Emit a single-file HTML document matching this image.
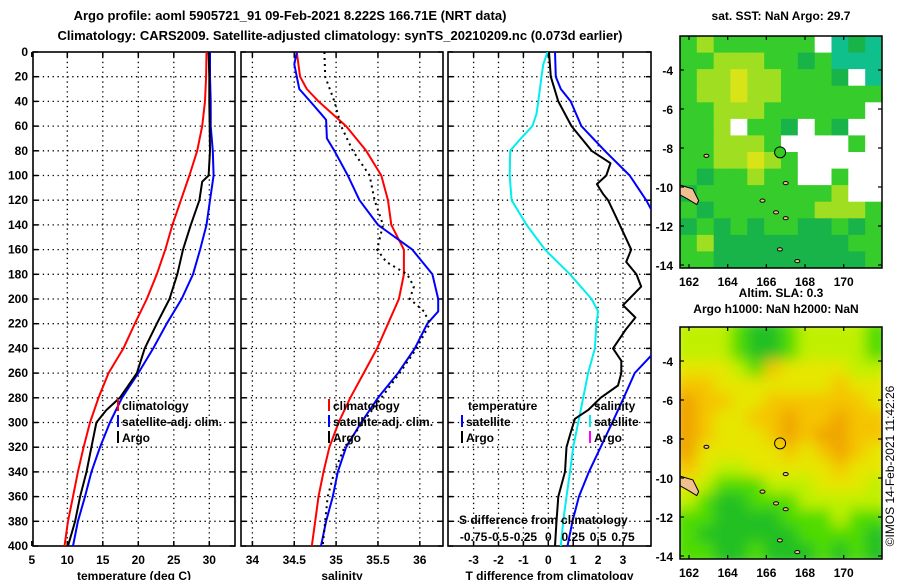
<!DOCTYPE html>
<html><head><meta charset="utf-8"><title>Argo profile</title>
<style>
html,body{margin:0;padding:0;background:#fff;}
svg{display:block;font-family:"Liberation Sans",Arial,sans-serif;font-weight:bold;}
text{fill:#000;}
</style></head>
<body>
<svg id="fig" width="900" height="580" viewBox="0 0 900 580" xmlns="http://www.w3.org/2000/svg">
<defs>
<clipPath id="c1"><rect x="33" y="52" width="202" height="494"/></clipPath>
<clipPath id="c2"><rect x="241" y="52" width="202" height="494"/></clipPath>
<clipPath id="c3"><rect x="448" y="52" width="203" height="494"/></clipPath>
<clipPath id="cm1"><rect x="680" y="36" width="202" height="232"/></clipPath>
<clipPath id="cm2"><rect x="680" y="327" width="202" height="232"/></clipPath>
<filter id="blur" x="-5%" y="-5%" width="110%" height="110%"><feGaussianBlur stdDeviation="7"/></filter>
</defs>
<text x="290" y="20" font-size="13" text-anchor="middle">Argo profile: aoml 5905721_91 09-Feb-2021 8.222S 166.71E (NRT data)</text>
<text x="340" y="40" font-size="13" text-anchor="middle">Climatology: CARS2009. Satellite-adjusted climatology: synTS_20210209.nc (0.073d earlier)</text>
<g id="panels"></g>
<g id="maps"></g>
<text x="781" y="20" font-size="12" text-anchor="middle">sat. SST: NaN Argo: 29.7</text>
<text x="781" y="297" font-size="12" text-anchor="middle">Altim. SLA: 0.3</text>
<text x="776" y="313" font-size="12" text-anchor="middle">Argo h1000: NaN h2000: NaN</text>
<text x="0" y="0" font-size="12" font-weight="normal" text-anchor="middle" transform="translate(894,466) rotate(-90)">©IMOS 14-Feb-2021 11:42:26</text>
</svg>
<script>
// ---------- data ----------
const depthTClim = [0,20,40,60,80,100,120,140,160,180,200,220,240,260,280,300,320,340,360,380,400];
const tempClim   = [29.6,29.55,29.4,29.0,28.3,27.2,26.0,24.8,23.8,22.6,21.2,19.5,17.9,15.8,14.4,13.2,12.3,11.5,10.8,10.1,9.6];
const depthTSat  = [0,20,40,60,80,100,120,140,160,180,200,220,240,260,280,300,320,340,360,380,400];
const tempSat    = [30.1,30.1,30.2,30.2,30.5,30.6,30.1,29.6,28.7,27.7,26.1,24.0,22.1,20.0,17.7,16.0,14.6,13.4,12.5,11.5,10.8];
const depthTArgo = [0,20,40,60,80,100,105,120,140,160,180,200,220,240,260,280,290,300,320,340,360,380,400];
const tempArgo   = [29.9,30.0,30.0,30.05,30.1,29.9,29.0,28.6,27.4,26.3,25.5,24.4,22.6,20.9,19.8,17.4,15.5,14.1,13.4,12.7,11.8,11.1,10.1];

const depthSClim = [0,10,20,30,40,60,80,100,120,140,160,180,200,220,240,260,280,300,320,340,360,380,400];
const salClim    = [34.53,34.55,34.57,34.65,34.79,35.12,35.36,35.54,35.62,35.66,35.81,35.81,35.75,35.62,35.49,35.33,35.17,35.03,34.92,34.85,34.79,34.75,34.71];
const depthSSat  = [0,10,20,30,40,50,55,70,80,100,120,140,160,180,200,210,220,240,260,280,300,320,340,360,380,400];
const salSat     = [34.53,34.50,34.53,34.56,34.69,34.82,34.88,34.89,34.98,35.14,35.28,35.5,35.91,36.15,36.22,36.22,36.09,35.94,35.74,35.5,35.3,35.12,35.02,34.96,34.88,34.82];
const depthSArgo = [0,20,40,60,80,100,120,140,160,170,180,190,200,210,220,240,260,280,300,320,340,360,380,400];
const salArgo    = [34.86,34.87,34.98,35.06,35.2,35.4,35.46,35.56,35.49,35.6,35.85,35.93,35.88,36.05,36.12,35.96,35.76,35.54,35.32,35.1,34.98,34.9,34.87,34.84];

const depthDTSat  = [0,20,30,40,60,80,100,120,160,200,240,260,280,300,320,340,360,380,400];
const diffTSat    = [0.27,0.3,0.5,0.9,1.33,2.27,3.27,3.93,5.0,5.5,4.4,3.47,3.03,2.57,2.1,1.63,1.23,0.97,0.77];
const depthDTArgo = [0,20,40,60,80,90,100,107,115,120,140,160,170,180,190,205,215,225,240,250,260,270,280,290,297,310,320,340,360,380,400];
const diffTArgo   = [0.03,0.1,0.4,0.93,1.74,2.5,2.33,1.95,2.2,2.4,2.87,3.33,3.13,3.54,3.73,3.0,3.5,3.1,2.6,2.93,2.93,2.8,2.1,1.6,1.07,0.87,0.73,0.67,0.4,0.33,0.27];
const depthDSSat  = [0,10,20,40,50,60,70,80,100,120,140,160,180,200,210,220,240,260,280,300,320,340,360,380,400];
const diffSSat    = [-0.008,-0.05,-0.068,-0.1,-0.118,-0.16,-0.275,-0.383,-0.388,-0.368,-0.218,-0.033,0.218,0.435,0.5,0.483,0.468,0.4,0.35,0.3,0.25,0.218,0.183,0.15,0.125];

const depthTicks = [0,20,40,60,80,100,120,140,160,180,200,220,240,260,280,300,320,340,360,380,400];
const tempTicks  = [5,10,15,20,25,30];
const salTicks   = [34,34.5,35,35.5,36];
const salTickLabels = ['34','34.5','35','35.5','36'];
const dTTicks    = [-3,-2,-1,0,1,2,3];
const dSTicks    = [-0.75,-0.5,-0.25,0,0.25,0.5,0.75];
const dSTickLabels = ['-0.75','-0.5','-0.25','0','0.25','0.5','0.75'];

const latTicks = [-4,-6,-8,-10,-12,-14];
const lonTicks = [162,164,166,168,170];
const floatLon = 166.71, floatLat = -8.222;

const sstGrid = [
 "gyggggggwtdt",
 "ggyyyggdgttt",
 "gyyYyygggdwt",
 "gyyYyygggggg",
 "ggyyyggggggw",
 "ggywggdwgdww",
 "ggyyygwwwwgw",
 "ggyyYygwwwww",
 "gdggyggwwgww",
 "dggggggggyww",
 "gdggggggyyyg",
 "dgdgdggddgdg",
 "gyddddddddgg",
 "ggdddddddddg"];
const slaGrid = [
 "yyygGGgyyyyg",
 "yyygGGgyyyyg",
 "YYYygaYYYYyy",
 "aaYYYYYYYaYY",
 "oaaYYaaaaaaY",
 "oaYYaaoaaoaa",
 "oaYYYaoaooaa",
 "oYYYYYaYaoaY",
 "aYyyYYYYYaYY",
 "YygggyyyYYYy",
 "ygGGgggyyyyy",
 "ggGGGGgggygg",
 "gGGGGGGggggG",
 "ggGGgGGGgGgG"];
const sstColors = {g:'#36cc2c',d:'#18b44a',y:'#a0de22',Y:'#d8e418',t:'#10c08c',w:'#ffffff'};
const slaColors = {o:'#f0a400',a:'#f5c400',Y:'#e6e600',y:'#c0f000',g:'#50dc00',G:'#22c020'};

// ---------- helpers ----------
const NS='http://www.w3.org/2000/svg';
function mk(tag, attrs, parent){const e=document.createElementNS(NS,tag);for(const k in attrs)e.setAttribute(k,attrs[k]);parent.appendChild(e);return e;}
const TOP=52, BOT=546;
function yD(d){return TOP+(d/400)*(BOT-TOP);}

const panelsG=document.getElementById('panels');

function panel(name, x0, x1, xScale, ticks, labels, title, clipId, gridX){
  const g=mk('g',{},panelsG);
  
  
  depthTicks.forEach(d=>{ if(d>0&&d<400){const l=mk('line',{x1:x0,x2:x1,y1:yD(d),y2:yD(d),stroke:'#000','stroke-width':1.3,'stroke-dasharray':'1.3,3.6'},g);
     }
    const t1=mk('line',{x1:x0,x2:x0+5,y1:yD(d),y2:yD(d),stroke:'#000','stroke-width':1.5},g);
     
    const t2=mk('line',{x1:x1-5,x2:x1,y1:yD(d),y2:yD(d),stroke:'#000','stroke-width':1.5},g);
     
  });
  gridX.forEach(v=>{const x=xScale(v);
    const l=mk('line',{x1:x,x2:x,y1:TOP,y2:BOT,stroke:'#000','stroke-width':1.3,'stroke-dasharray':'1.3,3.6'},g);
     });
  ticks.forEach((v,i)=>{const x=xScale(v);
    const t1=mk('line',{x1:x,x2:x,y1:TOP,y2:TOP+5,stroke:'#000','stroke-width':1.5},g);
     
    const t2=mk('line',{x1:x,x2:x,y1:BOT-5,y2:BOT,stroke:'#000','stroke-width':1.5},g);
     
    const tx=mk('text',{x:x,y:564,'font-size':12,'text-anchor':'middle'},g); tx.textContent=labels[i];
     
  });
  const r=mk('rect',{x:x0,y:TOP,width:x1-x0,height:BOT-TOP,fill:'none',stroke:'#000','stroke-width':1.6},g);
   
  const tt=mk('text',{x:(x0+x1)/2,y:580,'font-size':12,'text-anchor':'middle'},g); tt.textContent=title;
   
  return g;
}
function series(g, depths, vals, xScale, color, clipId, name, dash, w){
  let d='';
  depths.forEach((dep,i)=>{d+=(i?'L':'M')+xScale(vals[i]).toFixed(1)+','+yD(dep).toFixed(1);});
  const attrs={d:d,fill:'none',stroke:color,'stroke-width':w||2,'clip-path':'url(#'+clipId+')','stroke-linejoin':'round'};
  if(dash) attrs['stroke-dasharray']=dash;
  const p=mk('path',attrs,g);
  
  
}
function legend(g, x, y, color, label){
  if(color){const l=mk('line',{x1:x,x2:x,y1:y-11,y2:y+1,stroke:color,'stroke-width':2},g);
     }
  const t=mk('text',{x:x+4,y:y,'font-size':12},g); t.textContent=label;
   
}

depthTicks.forEach(d=>{const t=mk('text',{x:28,y:yD(d)+4,'font-size':12,'text-anchor':'end'},panelsG);t.textContent=d;
   });

// panel 1 temperature
const xT=v=>67.3+(v-10)*7.1;
const g1=panel('temperature-panel',33,235,xT,tempTicks,tempTicks.map(String),'temperature (deg C)','c1',[10,15,20,25,30]);
series(g1,depthTClim,tempClim,xT,'#ff0000','c1','temperature-climatology-line');
series(g1,depthTSat,tempSat,xT,'#0000ff','c1','temperature-satellite-line');
series(g1,depthTArgo,tempArgo,xT,'#000000','c1','temperature-argo-line');
legend(g1,118,410,'#ff0000','climatology');
legend(g1,118,426,'#0000ff','satellite-adj. clim.');
legend(g1,118,442,'#000000','Argo');

// panel 2 salinity
const xS=v=>252.4+(v-34)*83.7;
const g2=panel('salinity-panel',241,443,xS,salTicks,salTickLabels,'salinity','c2',salTicks);
series(g2,depthSClim,salClim,xS,'#ff0000','c2','salinity-climatology-line');
series(g2,depthSSat,salSat,xS,'#0000ff','c2','salinity-satellite-line');
series(g2,depthSArgo,salArgo,xS,'#000000','c2','salinity-argo-line','2,4');
legend(g2,329,410,'#ff0000','climatology');
legend(g2,329,426,'#0000ff','satellite-adj. clim.');
legend(g2,329,442,'#000000','Argo');

// panel 3 differences
const xD=v=>548.3+v*24.9;
const xDS=v=>548.3+v*4*24.9;
const g3=panel('difference-panel',448,651,xD,dTTicks,dTTicks.map(String),'T difference from climatology','c3',dTTicks);
series(g3,depthDSSat,diffSSat,xDS,'#00eeee','c3','salinity-difference-satellite-line');
series(g3,depthDTArgo,diffTArgo,xD,'#000000','c3','temperature-difference-argo-line');
series(g3,depthDTSat,diffTSat,xD,'#0000ff','c3','temperature-difference-satellite-line');
legend(g3,464,410,null,'temperature');
legend(g3,462,426,'#0000ff','satellite');
legend(g3,462,442,'#000000','Argo');
legend(g3,590,410,null,'salinity');
legend(g3,590,426,'#00eeee','satellite');
legend(g3,590,442,'#ff00ff','Argo');
{const t=mk('text',{x:459,y:524,'font-size':12},g3);t.textContent='S difference from climatology';
  }
dSTicks.forEach((v,i)=>{const t=mk('text',{x:xDS(v),y:541,'font-size':12,'text-anchor':'middle'},g3);t.textContent=dSTickLabels[i];
  });

// ---------- maps ----------
const mapsG=document.getElementById('maps');
const MX0=680,MX1=882;
const lonX=lon=>689+(lon-162)*19.34;
function drawMap(name, top, lat4y, grid, colors, clipId, blur){
  const g=mk('g',{},mapsG);
  
  
  const H=232, cw=(MX1-MX0)/12, ch=H/14;
  const cells=mk('g',{'clip-path':'url(#'+clipId+')'},g);
  const inner=mk('g',blur?{filter:'url(#blur)'}:{},cells);
  grid.forEach((row,r)=>{row.split('').forEach((c,k)=>{
    const pad=blur?8:0;
    const x=MX0+k*cw-(k==0?pad:0), y=top+r*ch-(r==0?pad:0);
    const w=cw+0.6+(k==0||k==11?pad:0), h=ch+0.6+(r==0||r==13?pad:0);
    const re=mk('rect',{x:x.toFixed(1),y:y.toFixed(1),width:w.toFixed(1),height:h.toFixed(1),fill:colors[c]},inner);
     
  });});
  const latY=lat=>lat4y+(-4-lat)*19.5;
  const isl=mk('path',{d:`M${MX0},${latY(-9.9)} L${lonX(162.2)},${latY(-10.1)} L${lonX(162.5)},${latY(-10.7)} L${lonX(162.4)},${latY(-10.9)} L${lonX(161.9)},${latY(-10.6)} L${MX0},${latY(-10.4)} Z`,fill:'#f2c090',stroke:'#000','stroke-width':1,'clip-path':'url(#'+clipId+')'},g);
   
  [[165.8,-10.7],[166.5,-11.3],[167.0,-11.6],[166.7,-13.2],[167.6,-13.8],[162.9,-8.4],[167.0,-9.8]].forEach(p=>{
    const e=mk('ellipse',{cx:lonX(p[0]),cy:latY(p[1]),rx:2.5,ry:1.6,fill:'#f2c090',stroke:'#000','stroke-width':1},g);
     });
  const circ=mk('circle',{cx:lonX(floatLon),cy:latY(floatLat),r:5.5,fill:blur?'none':'#33cc22',stroke:'#000','stroke-width':1},g);
   
  const fr=mk('rect',{x:MX0,y:top,width:MX1-MX0,height:H,fill:'none',stroke:'#000','stroke-width':1.5},g);
   
  latTicks.forEach(l=>{const y=latY(l);
    const t=mk('text',{x:673,y:y+5,'font-size':12,'text-anchor':'end'},g);t.textContent=l;
     
    const a=mk('line',{x1:MX0,x2:MX0+4,y1:y,y2:y,stroke:'#000','stroke-width':1.2},g);
     
    const b=mk('line',{x1:MX1-4,x2:MX1,y1:y,y2:y,stroke:'#000','stroke-width':1.2},g);
     });
  lonTicks.forEach(l=>{const x=lonX(l);
    const t=mk('text',{x:x,y:top+H+18,'font-size':12,'text-anchor':'middle'},g);t.textContent=l;
     
    const a=mk('line',{x1:x,x2:x,y1:top,y2:top+4,stroke:'#000','stroke-width':1.2},g);
     
    const b=mk('line',{x1:x,x2:x,y1:top+H-4,y2:top+H,stroke:'#000','stroke-width':1.2},g);
     });
}
drawMap('sst-map',36,70,sstGrid,sstColors,'cm1',false);
drawMap('sla-map',327,361,slaGrid,slaColors,'cm2',true);
</script>
</body></html>
